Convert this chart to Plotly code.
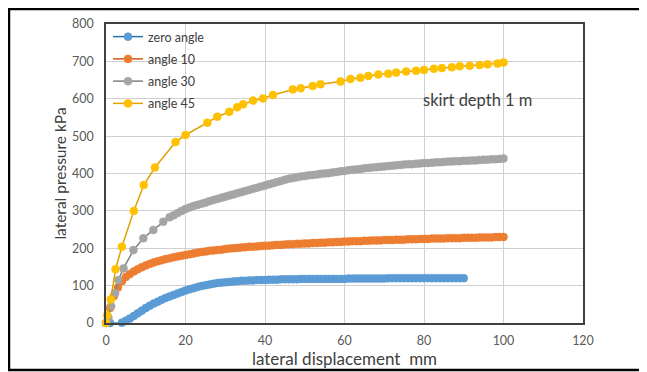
import plotly.graph_objects as go

# ---------------- data ----------------
zero_x = list(range(1, 91))
zero_y = [0, -1, -1, 1, 6, 12, 19, 26, 33, 40,
          46, 52, 57, 62, 67, 71, 75, 79, 83, 87,
          90, 93, 96, 99, 101, 103, 105, 107, 108, 109,
          110, 111, 112, 113, 113, 114, 114, 115, 115, 115,
          116, 116, 116, 117, 117, 117, 117, 117, 118, 118,
          118, 118, 118, 118, 118, 118, 118, 118, 118, 118,
          119, 119, 119, 119, 119, 119, 119, 119, 119, 119,
          120, 120, 120, 120, 120, 120, 120, 120, 120, 120,
          120, 120, 120, 120, 120, 120, 120, 120, 120, 120]

a10_x = list(range(0, 101))
a10_y = [0, 40, 72, 95, 112, 123, 131, 138, 144, 149,
         154, 158, 162, 165, 168, 171, 173, 176, 178, 180,
         182, 184, 186, 188, 190, 191, 193, 194, 195, 196,
         198, 199, 200, 201, 202, 203, 204, 204, 205, 206,
         207, 207, 208, 209, 209, 210, 211, 211, 212, 212,
         213, 213, 214, 214, 215, 215, 216, 216, 217, 217,
         218, 218, 219, 219, 219, 220, 220, 221, 221, 221,
         222, 222, 222, 223, 223, 223, 224, 224, 224, 225,
         225, 225, 226, 226, 226, 226, 227, 227, 227, 227,
         228, 228, 228, 228, 229, 229, 229, 229, 230, 230,
         230]

a30_x = [0, 0.6, 1.3, 2.3, 3.1, 4.4, 6.9, 9.4, 11.9, 14.4, 16] + list(range(17, 101))
a30_y = [0, 15, 45, 80, 115, 146, 195, 227, 249, 271, 283,
         288, 294, 300, 305, 309, 313, 316, 319, 322, 326,
         329, 332, 335, 338, 341, 344, 347, 350, 353, 356,
         359, 362, 365, 368, 371, 374, 377, 380, 383, 386,
         388, 390, 392, 393, 395, 396, 397, 399, 400, 401,
         403, 404, 406, 407, 409, 410, 411, 412, 414, 415,
         416, 417, 418, 419, 420, 421, 422, 423, 424, 425,
         425, 426, 427, 428, 428, 429, 430, 430, 431, 432,
         432, 433, 433, 434, 434, 435, 435, 436, 437, 437,
         438, 438, 439, 440]

a45_x = [0, 0.3, 1.2, 2.4, 4, 7, 9.5, 12.3, 17.5, 20, 25.5, 28, 31, 33, 34.5,
         37, 39.5, 42, 47, 49, 52, 54, 59, 61.5, 64, 66, 68.5, 71, 73, 75.5,
         78, 80, 82.5, 84.5, 87, 89, 91.5, 94, 96, 98.5, 100]
a45_y = [0, 21, 63, 144, 204, 300, 369, 416, 484, 503, 536, 552, 565, 577, 585,
         595, 601, 610, 625, 628, 634, 639, 646, 653, 656, 661, 665, 667, 670, 673,
         675, 677, 680, 682, 684, 687, 688, 690, 692, 694, 697]

series = [
    ("zero angle", zero_x, zero_y, "#5B9BD5", "#2F6DB0"),
    ("angle 10", a10_x, a10_y, "#ED7D31", "#C55A11"),
    ("angle 30", a30_x, a30_y, "#A5A5A5", "#7F7F7F"),
    ("angle 45", a45_x, a45_y, "#FFC000", "#E0A000"),
]

x_ticks = [0, 20, 40, 60, 80, 100, 120]
y_ticks = [0, 100, 200, 300, 400, 500, 600, 700, 800]

FONT = "Lato"

fig = go.Figure()
for name, xs, ys, mc, lc in series:
    fig.add_trace(go.Scatter(
        x=xs, y=ys, name=name, mode="lines+markers",
        line=dict(color=lc, width=1.5),
        marker=dict(color=mc, size=8, line=dict(color=mc, width=0.5)),
        cliponaxis=False, legendgroup=name,
    ))

# the page has an 8px body margin; figure coords = page coords - 8
W, H = 639, 364
L, T = 98, 16
R, B = W - 575, H - 315
pw, ph = W - L - R, H - T - B

def px2paper_x(px):
    return (px - L) / pw

def px2paper_y(py):
    return (H - B - py) / ph

fig.update_layout(
    width=W, height=H,
    margin=dict(l=L, r=R, t=T, b=B, autoexpand=False),
    paper_bgcolor="white", plot_bgcolor="white",
    font=dict(family=FONT, color="#404040"),
    showlegend=True,
    legend=dict(x=px2paper_x(100), y=1 - 14 / H, yref="container",
                xanchor="left", yanchor="top",
                bgcolor="rgba(0,0,0,0)", font=dict(size=12.5, color="#404040"),
                tracegroupgap=3, itemwidth=30),
    xaxis=dict(range=[0, 120], tickvals=x_ticks, ticktext=[str(v) for v in x_ticks],
               showgrid=True, gridcolor="#D0D0D0", gridwidth=1,
               showline=True, linecolor="#404040", linewidth=1.5, mirror=True,
               zeroline=False, ticks="", tickfont=dict(size=12.5, color="#595959"),
               ticklabelstandoff=5,
               title=dict(text="lateral displacement  mm", font=dict(size=17, color="#404040"),
                          standoff=2)),
    yaxis=dict(range=[0, 800], tickvals=y_ticks, ticktext=[str(v) for v in y_ticks],
               showgrid=True, gridcolor="#D0D0D0", gridwidth=1,
               showline=True, linecolor="#404040", linewidth=1.5, mirror=True,
               zeroline=False, ticks="", tickfont=dict(size=12.5, color="#595959"),
               ticklabelstandoff=8,
               title=dict(text="lateral pressure kPa", font=dict(size=15.5, color="#404040"),
                          standoff=2)),
    annotations=[dict(text="skirt depth 1 m", x=79.3, y=597, xref="x", yref="y",
                      xanchor="left", yanchor="middle", showarrow=False,
                      font=dict(size=16.5, color="#404040"))],
    shapes=[dict(type="rect", xref="paper", yref="paper",
                 x0=px2paper_x(1), x1=px2paper_x(660),
                 y0=px2paper_y(362), y1=px2paper_y(1),
                 line=dict(color="black", width=2.5), fillcolor="rgba(0,0,0,0)",
                 layer="above")],
)

fig.write_html("out.html")
